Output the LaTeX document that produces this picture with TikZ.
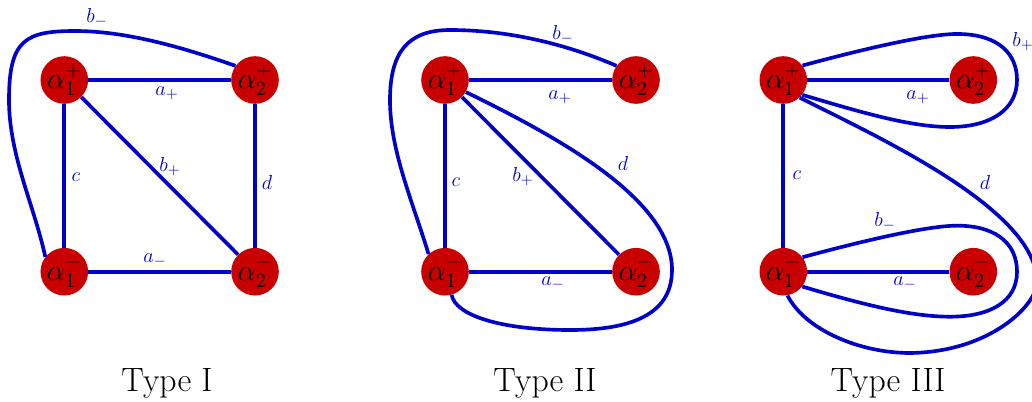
\documentclass[tikz,border=0pt]{standalone}
\definecolor{nodered}{RGB}{200,0,0}
\definecolor{edgeblue}{RGB}{0,0,200}
\tikzset{
  vert/.style={circle, fill=nodered, minimum size=1.19cm, inner sep=0pt, text=black,
    font=\fontsize{19.5}{24}\selectfont, execute at begin node=\everymath{\displaystyle}},
  edge/.style={draw=edgeblue, line width=2.6pt},
  lab/.style={text=edgeblue, inner sep=0pt, font=\fontsize{15.5}{18}\selectfont},
  captxt/.style={inner sep=0pt, font=\fontsize{24}{28}\selectfont}
}
\begin{document}
\begin{tikzpicture}[x=0.025cm, y=-0.025cm]
\useasboundingbox (0,0) rectangle (1032,401);
\clip (0,0) rectangle (1032,401);
% ---------- Type I ----------
\node[vert] (A1p) at (64.3,80) {$\alpha_1^+$};
\node[vert] (A2p) at (255,80) {$\alpha_2^+$};
\node[vert] (A1m) at (64.3,271.7) {$\alpha_1^-$};
\node[vert] (A2m) at (255,271.7) {$\alpha_2^-$};
\draw[edge] (A1p) -- (A2p);
\draw[edge] (A1m) -- (A2m);
\draw[edge] (A1p) -- (A1m);
\draw[edge] (A2p) -- (A2m);
\draw[edge] (A1p) -- (A2m);
\draw[edge] (A1m.142) .. controls (34,205) and (9,155) .. (9,100)
  .. controls (9,40) and (25,31) .. (75,31)
  .. controls (130,31) and (190,50) .. (A2p.144);
\node[lab] (IbM) at (97,18) {$b_-$};
\node[lab] (IaP) at (167,93) {$a_+$};
\node[lab] (IaM) at (155,260) {$a_-$};
\node[lab] (Ic) at (76,177) {$c$};
\node[lab] (Id) at (267,182) {$d$};
\node[lab] (IbP) at (170,167) {$b_+$};
\node[captxt] (capI) at (167,383) {Type I};
% ---------- Type II ----------
\node[vert] (B1p) at (445,80) {$\alpha_1^+$};
\node[vert] (B2p) at (636,80) {$\alpha_2^+$};
\node[vert] (B1m) at (445,271.7) {$\alpha_1^-$};
\node[vert] (B2m) at (636,271.7) {$\alpha_2^-$};
\draw[edge] (B1p) -- (B2p);
\draw[edge] (B1m) -- (B2m);
\draw[edge] (B1p) -- (B1m);
\draw[edge] (B1p) -- (B2m);
\draw[edge] (B1m.133) .. controls (412,200) and (390,150) .. (390,100)
  .. controls (390,52) and (408,30) .. (450,30)
  .. controls (520,30) and (580,50) .. (B2p.144);
\draw[edge] (B1p.-30) .. controls (560,138) and (672,200) .. (672,270)
  .. controls (672,320) and (620,330) .. (570,330)
  .. controls (500,330) and (455,315) .. (B1m.-74);
\node[lab] (IIaP) at (560,97) {$a_+$};
\node[lab] (IIaM) at (553,283) {$a_-$};
\node[lab] (IIc) at (456,182) {$c$};
\node[lab] (IIbP) at (523,177) {$b_+$};
\node[lab] (IId) at (623,163) {$d$};
\node[lab] (IIbM) at (563,35) {$b_-$};
\node[captxt] (capII) at (545,383) {Type II};
% ---------- Type III ----------
\node[vert] (C1p) at (783.3,80) {$\alpha_1^+$};
\node[vert] (C2p) at (973.3,80) {$\alpha_2^+$};
\node[vert] (C1m) at (783.3,271.7) {$\alpha_1^-$};
\node[vert] (C2m) at (973.3,271.7) {$\alpha_2^-$};
\draw[edge] (C1p) -- (C2p);
\draw[edge] (C1m) -- (C2m);
\draw[edge] (C1p) -- (C1m);
\draw[edge] (C1p.37) .. controls (860,50) and (930,33) .. (960,34)
  .. controls (1000,35) and (1017,55) .. (1017,80)
  .. controls (1017,110) and (990,127) .. (950,127)
  .. controls (910,127) and (860,112) .. (C1p.-38);
\draw[edge] (C1m.37) .. controls (860,241.7) and (930,224.7) .. (960,225.7)
  .. controls (1000,226.7) and (1017,246.7) .. (1017,271.7)
  .. controls (1017,301.7) and (990,316.7) .. (950,316.7)
  .. controls (910,316.7) and (860,303.7) .. (C1m.-38);
\draw[edge] (C1p.-47) .. controls (880,138) and (1037,210) .. (1037,282)
  .. controls (1037,305) and (990,352) .. (910,353)
  .. controls (860,353) and (805,330) .. (C1m.-80);
\node[lab] (IIIaP) at (918,97) {$a_+$};
\node[lab] (IIIaM) at (905,283) {$a_-$};
\node[lab] (IIIc) at (797,175) {$c$};
\node[lab] (IIId) at (985,182) {$d$};
\node[lab] (IIIbP) at (1023,42) {$b_+$};
\node[lab] (IIIbM) at (885,222) {$b_-$};
\node[captxt] (capIII) at (888,383) {Type III};
\end{tikzpicture}
\end{document}
